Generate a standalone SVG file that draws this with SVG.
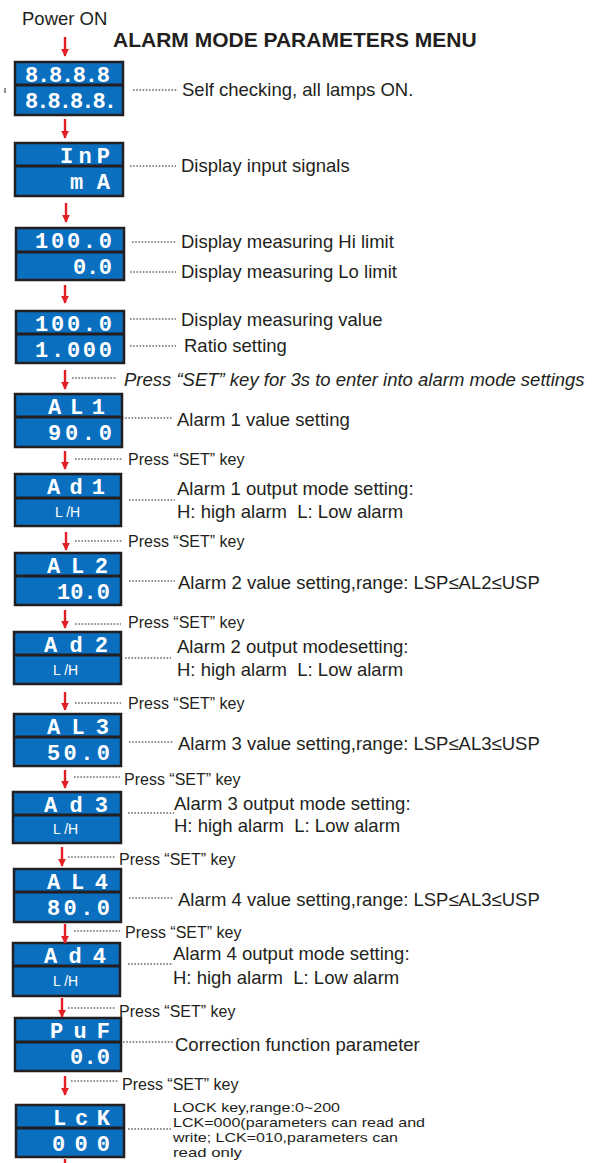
<svg xmlns="http://www.w3.org/2000/svg" width="595" height="1163" viewBox="0 0 595 1163">
<style>
.bx{fill:#0a6fbf;stroke:#231f20;stroke-width:2.5}
.dv{stroke:#231f20;stroke-width:3}
.sg{font-family:"Liberation Mono","DejaVu Sans Mono",monospace;font-weight:bold;font-size:22px;fill:#fff}
.lh{font-family:"Liberation Sans",Arial,sans-serif;font-size:14px;fill:#fff}
.lb{font-family:"Liberation Sans",Arial,sans-serif;font-size:18.5px;fill:#231f20;white-space:pre}
.ky{font-family:"Liberation Sans",Arial,sans-serif;font-size:16px;fill:#231f20}
.sm{font-family:"Liberation Sans",Arial,sans-serif;font-size:13px;fill:#231f20}
.ld{stroke:#231f20;stroke-width:1;stroke-dasharray:1.6 1.6;fill:none}
.ar{stroke:#e31e24;stroke-width:2.4;fill:none}
</style>
<defs>
<marker id="ah" viewBox="0 0 10 10" refX="9" refY="5" markerWidth="3.3" markerHeight="3.3" orient="auto" markerUnits="strokeWidth">
<path d="M0,0 L10,5 L0,10 Z" fill="#e31e24"/>
</marker>
</defs>
<rect width="595" height="1163" fill="#fff"/>
<text x="22" y="25" class="lb">Power ON</text>
<text x="113" y="47" style="font-family:'Liberation Sans',Arial,sans-serif;font-weight:bold;font-size:21px;fill:#231f20">ALARM MODE PARAMETERS MENU</text>
<line x1="5" y1="88" x2="5" y2="93" stroke="#231f20" stroke-width="1"/>

<g id="n1"><rect class="bx" x="15" y="62" width="108" height="53"/><line class="dv" x1="15" y1="85" x2="123" y2="85"/>
<text class="sg" x="25" y="82" textLength="85" lengthAdjust="spacing">8.8.8.8</text>
<text class="sg" x="25" y="108" textLength="92" lengthAdjust="spacing">8.8.8.8.</text></g>
<g id="n2"><rect class="bx" x="15" y="143" width="108" height="53"/><line class="dv" x1="15" y1="166" x2="123" y2="166"/>
<text class="sg" x="60" y="163" textLength="50" lengthAdjust="spacing">InP</text>
<text class="sg" x="70" y="189" textLength="40" lengthAdjust="spacing">mA</text></g>
<g id="n3"><rect class="bx" x="16" y="228" width="108" height="52"/><line class="dv" x1="16" y1="252" x2="124" y2="252"/>
<text class="sg" x="35" y="248" textLength="77" lengthAdjust="spacing">100.0</text>
<text class="sg" x="73" y="274" textLength="39" lengthAdjust="spacing">0.0</text></g>
<g id="n4"><rect class="bx" x="16" y="311" width="108" height="52"/><line class="dv" x1="16" y1="334" x2="124" y2="334"/>
<text class="sg" x="35" y="331" textLength="77" lengthAdjust="spacing">100.0</text>
<text class="sg" x="35" y="357" textLength="77" lengthAdjust="spacing">1.000</text></g>
<g id="n5"><rect class="bx" x="15" y="394" width="107" height="53"/><line class="dv" x1="15" y1="417" x2="122" y2="417"/>
<text class="sg" x="48" y="414" textLength="57" lengthAdjust="spacing">AL1</text>
<text class="sg" x="48" y="440" textLength="64" lengthAdjust="spacing">90.0</text></g>
<g id="n6"><rect class="bx" x="15" y="474" width="106" height="52"/><line class="dv" x1="15" y1="498" x2="121" y2="498"/>
<text class="sg" x="47" y="494" textLength="58" lengthAdjust="spacing">Ad1</text>
<text class="lh" x="55" y="517">L /H</text></g>
<g id="n7"><rect class="bx" x="15" y="553" width="106" height="52"/><line class="dv" x1="15" y1="576" x2="121" y2="576"/>
<text class="sg" x="47" y="573" textLength="61" lengthAdjust="spacing">AL2</text>
<text class="sg" x="57" y="599" textLength="53" lengthAdjust="spacing">10.0</text></g>
<g id="n8"><rect class="bx" x="14" y="632" width="107" height="52"/><line class="dv" x1="14" y1="655" x2="121" y2="655"/>
<text class="sg" x="44" y="652" textLength="64" lengthAdjust="spacing">Ad2</text>
<text class="lh" x="53" y="675">L /H</text></g>
<g id="n9"><rect class="bx" x="14" y="714" width="107" height="52"/><line class="dv" x1="14" y1="737" x2="121" y2="737"/>
<text class="sg" x="47" y="734" textLength="62" lengthAdjust="spacing">AL3</text>
<text class="sg" x="47" y="760" textLength="63" lengthAdjust="spacing">50.0</text></g>
<g id="n10"><rect class="bx" x="13" y="792" width="108" height="51"/><line class="dv" x1="13" y1="815" x2="121" y2="815"/>
<text class="sg" x="44" y="812" textLength="64" lengthAdjust="spacing">Ad3</text>
<text class="lh" x="53" y="834">L /H</text></g>
<g id="n11"><rect class="bx" x="14" y="869" width="107" height="53"/><line class="dv" x1="14" y1="892" x2="121" y2="892"/>
<text class="sg" x="47" y="889" textLength="61" lengthAdjust="spacing">AL4</text>
<text class="sg" x="47" y="915" textLength="63" lengthAdjust="spacing">80.0</text></g>
<g id="n12"><rect class="bx" x="13" y="943" width="107" height="53"/><line class="dv" x1="13" y1="966" x2="120" y2="966"/>
<text class="sg" x="44" y="963" textLength="62" lengthAdjust="spacing">Ad4</text>
<text class="lh" x="53" y="986">L /H</text></g>
<g id="n13"><rect class="bx" x="15" y="1018" width="106" height="53"/><line class="dv" x1="15" y1="1042" x2="121" y2="1042"/>
<text class="sg" x="50" y="1038" textLength="60" lengthAdjust="spacing">PuF</text>
<text class="sg" x="70" y="1064" textLength="40" lengthAdjust="spacing">0.0</text></g>
<g id="n14"><rect class="bx" x="16" y="1105" width="108" height="52"/><line class="dv" x1="16" y1="1128" x2="124" y2="1128"/>
<text class="sg" x="53" y="1125" textLength="57" lengthAdjust="spacing">LcK</text>
<text class="sg" x="52" y="1151" textLength="58" lengthAdjust="spacing">000</text></g>

<g id="connectors">
<line class="ar" x1="65" y1="37" x2="65" y2="56" marker-end="url(#ah)"/>
<line class="ar" x1="65" y1="119" x2="65" y2="138" marker-end="url(#ah)"/>
<line class="ar" x1="66" y1="203" x2="66" y2="222" marker-end="url(#ah)"/>
<line class="ar" x1="65" y1="285" x2="65" y2="303" marker-end="url(#ah)"/>
<line class="ar" x1="65" y1="370" x2="65" y2="389" marker-end="url(#ah)"/>
<line class="ar" x1="65" y1="451" x2="65" y2="469" marker-end="url(#ah)"/>
<line class="ar" x1="66" y1="532" x2="66" y2="550" marker-end="url(#ah)"/>
<line class="ar" x1="65" y1="610" x2="65" y2="628" marker-end="url(#ah)"/>
<line class="ar" x1="65" y1="692" x2="65" y2="710" marker-end="url(#ah)"/>
<line class="ar" x1="65" y1="770" x2="65" y2="788" marker-end="url(#ah)"/>
<line class="ar" x1="62" y1="847" x2="62" y2="866" marker-end="url(#ah)"/>
<line class="ar" x1="65" y1="924" x2="65" y2="943" marker-end="url(#ah)"/>
<line class="ar" x1="62" y1="998" x2="62" y2="1017" marker-end="url(#ah)"/>
<line class="ar" x1="65" y1="1076" x2="65" y2="1095" marker-end="url(#ah)"/>
<line class="ar" x1="65" y1="1159" x2="65" y2="1163"/>
<path class="ld" d="M133,90H178 M130,166H176 M132,242H177 M130,272H176 M130,319H176 M130,346H176 M72,378H117 M122,418H173 M75,459H122 M129,500H175 M75,541H122 M129,581H175 M75,624H121 M125,658H171 M75,703H121 M129,742H174 M74,777H120 M128,813H174 M68,857H115 M129,898H174 M74,931H120 M128,964H173 M68,1008H115 M123,1042H173 M71,1081H118 M128,1129H171"/>
</g>

<text class="lb" x="182" y="96">Self checking, all lamps ON.</text>
<text class="lb" x="181" y="172">Display input signals</text>
<text class="lb" x="181" y="248">Display measuring Hi limit</text>
<text class="lb" x="181" y="278">Display measuring Lo limit</text>
<text class="lb" x="181" y="326">Display measuring value</text>
<text class="lb" x="184" y="352">Ratio setting</text>
<text class="lb" x="124" y="386" font-style="italic">Press “SET” key for 3s to enter into alarm mode settings</text>
<text class="lb" x="177" y="426">Alarm 1 value setting</text>
<text class="ky" x="128" y="465">Press “SET” key</text>
<text class="lb" x="177" y="495">Alarm 1 output mode setting:</text>
<text class="lb" x="177" y="518" xml:space="preserve">H: high alarm  L: Low alarm</text>
<text class="ky" x="128" y="547">Press “SET” key</text>
<text class="lb" x="178" y="589">Alarm 2 value setting,range: LSP≤AL2≤USP</text>
<text class="ky" x="128" y="628">Press “SET” key</text>
<text class="lb" x="177" y="653">Alarm 2 output modesetting:</text>
<text class="lb" x="177" y="676" xml:space="preserve">H: high alarm  L: Low alarm</text>
<text class="ky" x="128" y="709">Press “SET” key</text>
<text class="lb" x="178" y="750">Alarm 3 value setting,range: LSP≤AL3≤USP</text>
<text class="ky" x="124" y="785">Press “SET” key</text>
<text class="lb" x="174" y="810">Alarm 3 output mode setting:</text>
<text class="lb" x="174" y="832" xml:space="preserve">H: high alarm  L: Low alarm</text>
<text class="ky" x="119" y="865">Press “SET” key</text>
<text class="lb" x="178" y="906">Alarm 4 value setting,range: LSP≤AL3≤USP</text>
<text class="ky" x="125" y="938">Press “SET” key</text>
<text class="lb" x="173" y="960">Alarm 4 output mode setting:</text>
<text class="lb" x="173" y="984" xml:space="preserve">H: high alarm  L: Low alarm</text>
<text class="ky" x="119" y="1017">Press “SET” key</text>
<text class="lb" x="175" y="1051">Correction function parameter</text>
<text class="ky" x="122" y="1090">Press “SET” key</text>
<text class="sm" x="173" y="1112" textLength="167" lengthAdjust="spacingAndGlyphs">LOCK key,range:0~200</text>
<text class="sm" x="173" y="1127" textLength="252" lengthAdjust="spacingAndGlyphs">LCK=000(parameters can read and</text>
<text class="sm" x="173" y="1142" textLength="225" lengthAdjust="spacingAndGlyphs">write; LCK=010,parameters can</text>
<text class="sm" x="173" y="1157" textLength="69" lengthAdjust="spacingAndGlyphs">read only</text>
</svg>
